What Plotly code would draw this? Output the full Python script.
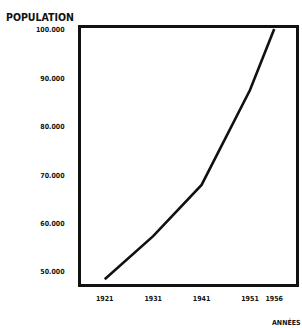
import plotly.graph_objects as go

years = [1921, 1931, 1941, 1951, 1956]
population = [48500, 57400, 68000, 87600, 100200]
x_tick_labels = ["1921", "1931", "1941", "1951", "1956"]
y_tick_vals = [50000, 60000, 70000, 80000, 90000, 100000]
y_tick_labels = ["50.000", "60.000", "70.000", "80.000", "90.000", "100.000"]

fig = go.Figure()
fig.add_trace(go.Scatter(x=years, y=population, mode="lines",
                         line=dict(color="#111", width=2.6), cliponaxis=False))

font_main = "DejaVu Sans Condensed, DejaVu Sans, sans-serif"
fig.update_layout(
    width=302, height=328,
    margin=dict(l=81, r=3, t=28, b=44),
    paper_bgcolor="white", plot_bgcolor="white",
    showlegend=False,
    font=dict(family=font_main, color="#111"),
    xaxis=dict(range=[1916.1, 1960.5], tickvals=years, ticktext=x_tick_labels,
               showgrid=False, zeroline=False, showline=True, linecolor="#111",
               linewidth=3, mirror=True, ticks="", ticklabelstandoff=6,
               tickfont=dict(size=7, family=font_main, weight="bold")),
    yaxis=dict(range=[47520, 100410], tickvals=y_tick_vals, ticktext=y_tick_labels,
               showgrid=False, zeroline=False, showline=True, linecolor="#111",
               linewidth=3, mirror=True, ticks="", ticklabelstandoff=12,
               tickfont=dict(size=7, family=font_main, weight="bold")),
    annotations=[
        dict(text="POPULATION", xref="paper", yref="paper", x=-78/218, y=1+11/256,
             xanchor="left", yanchor="middle", showarrow=False,
             font=dict(size=10.5, family=font_main, weight="bold")),
        dict(text="ANNÉES", xref="paper", yref="paper", x=1+7/218, y=-38/256,
             xanchor="right", yanchor="middle", showarrow=False,
             font=dict(size=7, family=font_main, weight="bold")),
    ],
)
fig.write_html("out.html", config={"displayModeBar": False},
               post_script="document.body.style.margin='0';document.body.style.overflow='hidden';")
